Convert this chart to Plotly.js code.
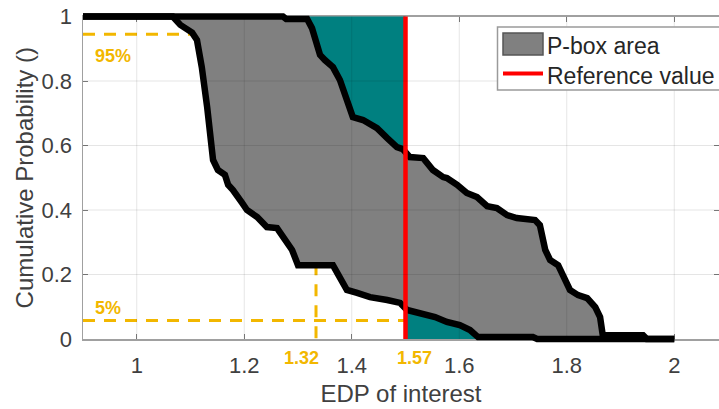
<!DOCTYPE html>
<html><head><meta charset="utf-8">
<script src="https://cdn.plot.ly/plotly-3.0.1.min.js"></script>
<style>html,body{margin:0;padding:0;background:#fff;overflow:hidden}</style>
</head><body><div id="chart" style="width:719px;height:409px"></div>
<script>
// ---- data ----
const xTickVals = [1, 1.2, 1.4, 1.6, 1.8, 2];
const xTickText = ['1', '1.2', '1.4', '1.6', '1.8', '2'];
const yTickVals = [0, 0.2, 0.4, 0.6, 0.8, 1];
const yTickText = ['0', '0.2', '0.4', '0.6', '0.8', '1'];
const gridX = [1, 1.2, 1.4, 1.6, 1.8, 2];
const gridY = [0.2, 0.4, 0.6, 0.8];

// upper CDF bound (left curve)
const leftX = [0.9, 1.067, 1.081, 1.103, 1.112, 1.121, 1.131, 1.136, 1.142, 1.151, 1.164, 1.170, 1.179, 1.196, 1.205, 1.224, 1.242, 1.261, 1.276, 1.289, 1.300, 1.365, 1.373, 1.391, 1.410, 1.434, 1.466, 1.490, 1.503, 1.527, 1.555, 1.577, 1.601, 1.620, 1.635, 1.737, 1.745, 2.0];
const leftY = [1, 1, 0.974, 0.950, 0.927, 0.843, 0.719, 0.626, 0.555, 0.524, 0.509, 0.478, 0.462, 0.422, 0.400, 0.378, 0.347, 0.344, 0.307, 0.276, 0.229, 0.229, 0.205, 0.152, 0.143, 0.130, 0.121, 0.112, 0.090, 0.081, 0.068, 0.053, 0.043, 0.028, 0.006, 0.006, 0, 0];

// lower CDF bound (right curve)
const rightX = [0.9, 1.272, 1.278, 1.317, 1.326, 1.334, 1.341, 1.350, 1.365, 1.378, 1.391, 1.402, 1.421, 1.447, 1.466, 1.484, 1.495, 1.508, 1.533, 1.551, 1.570, 1.577, 1.596, 1.614, 1.633, 1.652, 1.670, 1.689, 1.707, 1.741, 1.750, 1.760, 1.769, 1.784, 1.797, 1.806, 1.821, 1.838, 1.853, 1.862, 1.867, 1.942, 1.949, 2.0];
const rightY = [1, 1, 0.992, 0.992, 0.964, 0.927, 0.881, 0.865, 0.843, 0.803, 0.741, 0.688, 0.679, 0.654, 0.623, 0.595, 0.589, 0.564, 0.561, 0.524, 0.502, 0.499, 0.478, 0.453, 0.440, 0.412, 0.406, 0.384, 0.375, 0.369, 0.353, 0.276, 0.245, 0.229, 0.183, 0.152, 0.136, 0.127, 0.099, 0.068, 0.012, 0.012, 0, 0];

const referenceValue = 1.5;
const probHigh = 0.945;
const probLow = 0.057;
const quantAtHigh = 1.3335;
const quantAtLow = 1.572;
const probLabels = ['95%', '5%'];
const quantLabels = ['1.32', '1.57'];
const legendNames = ['P-box area', 'Reference value'];

// ---- helpers ----
function interpAt(xs, ys, x0) {
  for (let i = 0; i < xs.length - 1; i++) {
    if (xs[i] <= x0 && x0 <= xs[i + 1]) {
      if (xs[i + 1] === xs[i]) return ys[i];
      const t = (x0 - xs[i]) / (xs[i + 1] - xs[i]);
      return ys[i] + t * (ys[i + 1] - ys[i]);
    }
  }
  return null;
}
const xMin = 0.9, xMax = 0.9 + 636 / 537.5;

// teal region above lower bound, left of reference
const nUp = rightX.filter(x => x < referenceValue).length;
const yRightRef = interpAt(rightX, rightY, referenceValue);
const tealUpX = rightX.slice(0, nUp).concat([referenceValue, referenceValue]);
const tealUpY = rightY.slice(0, nUp).concat([yRightRef, 1]);

// teal region below upper bound, right of reference
const yLeftRef = interpAt(leftX, leftY, referenceValue);
const leftAfter = leftX.map((x, i) => [x, leftY[i]]).filter(p => p[0] > referenceValue);
const tealLoX = [referenceValue, referenceValue].concat(leftAfter.map(p => p[0]));
const tealLoY = [0, yLeftRef].concat(leftAfter.map(p => p[1]));

// p-box polygon
const boxX = leftX.concat(rightX.slice().reverse());
const boxY = leftY.concat(rightY.slice().reverse());

const yellow = '#f2b700';
const teal = '#008080';
const boxGray = '#808080';
const refRed = '#ff0000';

const dashX = [xMin, quantAtHigh, quantAtHigh, null, xMin, quantAtLow, quantAtLow];
const dashY = [probHigh, probHigh, 0, null, probLow, probLow, 0];

const traces = [
  {x: dashX, y: dashY, xaxis: 'x', yaxis: 'y', mode: 'lines', line: {color: yellow, width: 3, dash: '12px,9px'}, showlegend: false, hoverinfo: 'skip'},
  {x: tealUpX, y: tealUpY, xaxis: 'x2', yaxis: 'y2', mode: 'lines', fill: 'toself', fillcolor: teal, line: {width: 0, color: teal}, showlegend: false, hoverinfo: 'skip'},
  {x: tealLoX, y: tealLoY, xaxis: 'x2', yaxis: 'y2', mode: 'lines', fill: 'toself', fillcolor: teal, line: {width: 0, color: teal}, showlegend: false, hoverinfo: 'skip'},
  {x: boxX, y: boxY, xaxis: 'x2', yaxis: 'y2', mode: 'lines', fill: 'toself', fillcolor: boxGray, line: {width: 1, color: '#444'}, name: legendNames[0], showlegend: false, hoverinfo: 'skip'},
  {x: leftX, y: leftY, xaxis: 'x2', yaxis: 'y2', mode: 'lines', line: {color: '#000', width: 6.5}, showlegend: false, hoverinfo: 'skip'},
  {x: rightX, y: rightY, xaxis: 'x2', yaxis: 'y2', mode: 'lines', line: {color: '#000', width: 6.5}, showlegend: false, hoverinfo: 'skip'},
  {x: [referenceValue, referenceValue], y: [0, 1], xaxis: 'x2', yaxis: 'y2', mode: 'lines', line: {color: refRed, width: 4.5}, name: legendNames[1], showlegend: false, hoverinfo: 'skip'}
];

// pixel -> paper helpers for the hand-built legend box (plot area: x 83..719, y 10..345)
const px = v => (v - 83) / 636;
const py = v => (345 - v) / 335;

const shapes = [];
gridX.forEach(v => shapes.push({type: 'line', xref: 'x', yref: 'y', x0: v, x1: v, y0: 0, y1: 1, layer: 'above', line: {color: 'rgba(0,0,0,0.1)', width: 1}}));
gridY.forEach(v => shapes.push({type: 'line', xref: 'x', yref: 'y', x0: xMin, x1: xMax, y0: v, y1: v, layer: 'above', line: {color: 'rgba(0,0,0,0.1)', width: 1}}));
// legend
shapes.push({type: 'rect', xref: 'paper', yref: 'paper', x0: px(497.5), x1: px(730), y0: py(90), y1: py(27), layer: 'above', fillcolor: '#ffffff', line: {color: '#9a9a9a', width: 1.5}});
shapes.push({type: 'rect', xref: 'paper', yref: 'paper', x0: px(503), x1: px(543), y0: py(55), y1: py(33), layer: 'above', fillcolor: boxGray, line: {color: '#555555', width: 1.5}});
shapes.push({type: 'line', xref: 'paper', yref: 'paper', x0: px(503), x1: px(543), y0: py(73.5), y1: py(73.5), layer: 'above', line: {color: refRed, width: 4}});

const fontFam = 'Liberation Sans, Arial, sans-serif';
const annFont = {family: fontFam, size: 18, color: yellow, weight: 'bold'};
const legFont = {family: fontFam, size: 23, color: '#262626'};
const annotations = [
  {xref: 'x', yref: 'y', x: quantAtHigh, y: probHigh, text: probLabels[0], showarrow: false, font: annFont, xshift: -(316 - 113), yshift: -22},
  {xref: 'x', yref: 'y', x: quantAtHigh, y: probLow, text: probLabels[1], showarrow: false, font: annFont, xshift: -(316 - 108), yshift: 13},
  {xref: 'x', yref: 'y', x: quantAtHigh, y: 0, text: quantLabels[0], showarrow: false, font: annFont, xshift: -15, yshift: -19},
  {xref: 'x', yref: 'y', x: quantAtLow, y: 0, text: quantLabels[1], showarrow: false, font: annFont, xshift: -30, yshift: -19},
  {xref: 'paper', yref: 'paper', x: px(545), y: py(46), xanchor: 'left', yanchor: 'middle', text: legendNames[0], showarrow: false, font: legFont},
  {xref: 'paper', yref: 'paper', x: px(545), y: py(76), xanchor: 'left', yanchor: 'middle', text: legendNames[1], showarrow: false, font: legFont}
];

const tickFont = {family: fontFam, size: 22, color: '#404040'};
const layout = {
  width: 719, height: 409,
  margin: {l: 83, r: 0, t: 10, b: 64, pad: 0},
  paper_bgcolor: '#ffffff', plot_bgcolor: 'rgba(0,0,0,0)',
  showlegend: false,
  xaxis: {domain: [0, 1], anchor: 'y', range: [xMin, xMax], tickvals: xTickVals, ticktext: xTickText,
    ticks: 'inside', ticklen: 5, tickcolor: '#808080', showline: true, linecolor: '#a0a0a0', linewidth: 1.5, mirror: 'ticks',
    showgrid: false, zeroline: false, tickfont: tickFont, ticklabelstandoff: 6,
    title: {text: 'EDP of interest', font: {family: fontFam, size: 24, color: '#404040'}, standoff: 8}},
  yaxis: {domain: [6 / 335, 328.5 / 335], anchor: 'x', range: [0, 1], tickvals: yTickVals, ticktext: yTickText,
    ticks: 'inside', ticklen: 5, tickcolor: '#808080', showline: true, linecolor: '#a0a0a0', linewidth: 1.5, mirror: 'ticks',
    showgrid: false, zeroline: false, tickfont: tickFont, ticklabelstandoff: 5,
    title: {text: 'Cumulative Probability ()', font: {family: fontFam, size: 24, color: '#404040'}, standoff: 1}},
  xaxis2: {domain: [0, 1], anchor: 'y2', range: [xMin, xMax], visible: false},
  yaxis2: {domain: [0, 1], anchor: 'x2', range: [(339 - 345) / 322.5, (339 - 10) / 322.5], visible: false},
  shapes: shapes,
  annotations: annotations
};

Plotly.newPlot('chart', traces, layout, {displayModeBar: false, staticPlot: true});
</script>
</body></html>
